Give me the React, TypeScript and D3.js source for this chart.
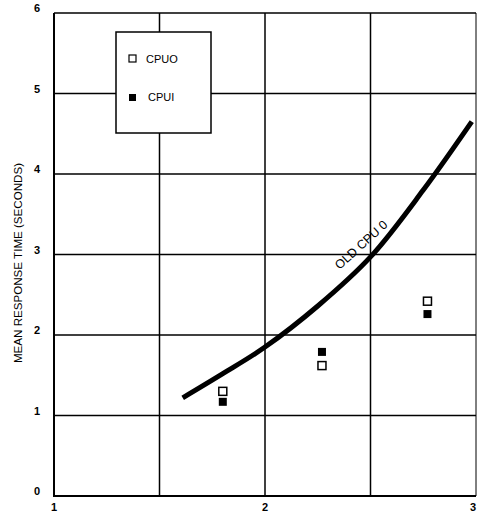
import { useRef, useEffect } from "react"
import * as d3 from "d3"

// curve "OLD CPU 0"
const curveX = [1.61, 1.8, 2.0, 2.25, 2.5, 2.75, 2.98]
const curveY = [1.22, 1.52, 1.85, 2.36, 2.97, 3.8, 4.65]

// measured points
const cpu0X = [1.8, 2.27, 2.77]
const cpu0Y = [1.3, 1.62, 2.42]
const cpu1X = [1.8, 2.27, 2.77]
const cpu1Y = [1.17, 1.79, 2.26]

const xTicks = [1, 2, 3]
const yTicks = [0, 1, 2, 3, 4, 5, 6]
const xGrid = [1.5, 2, 2.5, 3]

const App = () => {
  const svgRef = useRef<SVGSVGElement>(null)

  useEffect(() => {
    const svg = d3.select(svgRef.current)
    svg.selectAll("*").remove()

    const x = d3.scaleLinear().domain([1, 3]).range([54, 476])
    const y = d3.scaleLinear().domain([0, 6]).range([496, 13])
    const font = "Liberation Sans, Arial, sans-serif"

    // grid
    svg
      .append("g")
      .selectAll("line")
      .data(yTicks.slice(1))
      .enter()
      .append("line")
      .attr("x1", x(1))
      .attr("x2", x(3))
      .attr("y1", (d) => y(d))
      .attr("y2", (d) => y(d))
      .attr("stroke", "#000")
      .attr("stroke-width", 1.5)
    svg
      .append("g")
      .selectAll("line")
      .data(xGrid)
      .enter()
      .append("line")
      .attr("x1", (d) => x(d))
      .attr("x2", (d) => x(d))
      .attr("y1", y(0))
      .attr("y2", y(6))
      .attr("stroke", "#000")
      .attr("stroke-width", (d) => (d === 3 ? 1 : 1.5))

    // axes
    svg
      .append("line")
      .attr("x1", x(1))
      .attr("x2", x(1))
      .attr("y1", y(0) + 1)
      .attr("y2", y(6))
      .attr("stroke", "#000")
      .attr("stroke-width", 2)
    svg
      .append("line")
      .attr("x1", x(1))
      .attr("x2", x(3))
      .attr("y1", y(0))
      .attr("y2", y(0))
      .attr("stroke", "#000")
      .attr("stroke-width", 2)

    // tick labels
    svg
      .append("g")
      .selectAll("text")
      .data(yTicks)
      .enter()
      .append("text")
      .attr("x", 37)
      .attr("y", (d) => y(d) - 1)
      .attr("text-anchor", "middle")
      .style("font-family", font)
      .style("font-size", "11px")
      .style("font-weight", "bold")
      .text((d) => d)
    svg
      .append("g")
      .selectAll("text")
      .data(xTicks)
      .enter()
      .append("text")
      .attr("x", (d) => x(d))
      .attr("y", 511)
      .attr("text-anchor", (d) => (d === 3 ? "end" : "middle"))
      .attr("dx", 0)
      .style("font-family", font)
      .style("font-size", "11px")
      .style("font-weight", "bold")
      .text((d) => d)

    // y axis label
    svg
      .append("text")
      .attr("transform", "translate(22,263) rotate(-90)")
      .attr("text-anchor", "middle")
      .style("font-family", font)
      .style("font-size", "11.6px")
      .text("MEAN RESPONSE TIME (SECONDS)")

    // curve
    const line = d3
      .line<number>()
      .x((d, i) => x(curveX[i]))
      .y((d) => y(d))
      .curve(d3.curveCatmullRom.alpha(0.5))
    svg
      .append("path")
      .datum(curveY)
      .attr("fill", "none")
      .attr("stroke", "#000")
      .attr("stroke-width", 5)
      .attr("d", line)

    svg
      .append("text")
      .attr("transform", "translate(364,248) rotate(-42)")
      .attr("text-anchor", "middle")
      .style("font-family", font)
      .style("font-size", "12.5px")
      .text("OLD CPU 0")

    // points
    const s = 8
    svg
      .append("g")
      .selectAll("rect")
      .data(cpu0Y)
      .enter()
      .append("rect")
      .attr("x", (d, i) => x(cpu0X[i]) - s / 2)
      .attr("y", (d) => y(d) - s / 2)
      .attr("width", s)
      .attr("height", s)
      .attr("fill", "#fff")
      .attr("stroke", "#000")
      .attr("stroke-width", 1.5)
    svg
      .append("g")
      .selectAll("rect")
      .data(cpu1Y)
      .enter()
      .append("rect")
      .attr("x", (d, i) => x(cpu1X[i]) - s / 2)
      .attr("y", (d) => y(d) - s / 2)
      .attr("width", s)
      .attr("height", s)
      .attr("fill", "#000")

    // legend
    const lg = svg.append("g")
    lg.append("rect")
      .attr("x", 116)
      .attr("y", 32)
      .attr("width", 95)
      .attr("height", 101)
      .attr("fill", "#fff")
      .attr("stroke", "#000")
      .attr("stroke-width", 1.5)
    lg.append("rect")
      .attr("x", 129)
      .attr("y", 55)
      .attr("width", 7)
      .attr("height", 7)
      .attr("fill", "#fff")
      .attr("stroke", "#000")
      .attr("stroke-width", 1.2)
    lg.append("rect")
      .attr("x", 129)
      .attr("y", 94)
      .attr("width", 7)
      .attr("height", 7)
      .attr("fill", "#000")
    lg.append("text")
      .attr("x", 146)
      .attr("y", 63)
      .style("font-family", font)
      .style("font-size", "11px")
      .text("CPUO")
    lg.append("text")
      .attr("x", 148)
      .attr("y", 101)
      .style("font-family", font)
      .style("font-size", "11px")
      .text("CPUI")
  }, [])

  return (
    <svg
      ref={svgRef}
      width={477}
      height={512}
      style={{ position: "absolute", left: 0, top: 0, background: "#fff" }}
    ></svg>
  )
}

export default App
